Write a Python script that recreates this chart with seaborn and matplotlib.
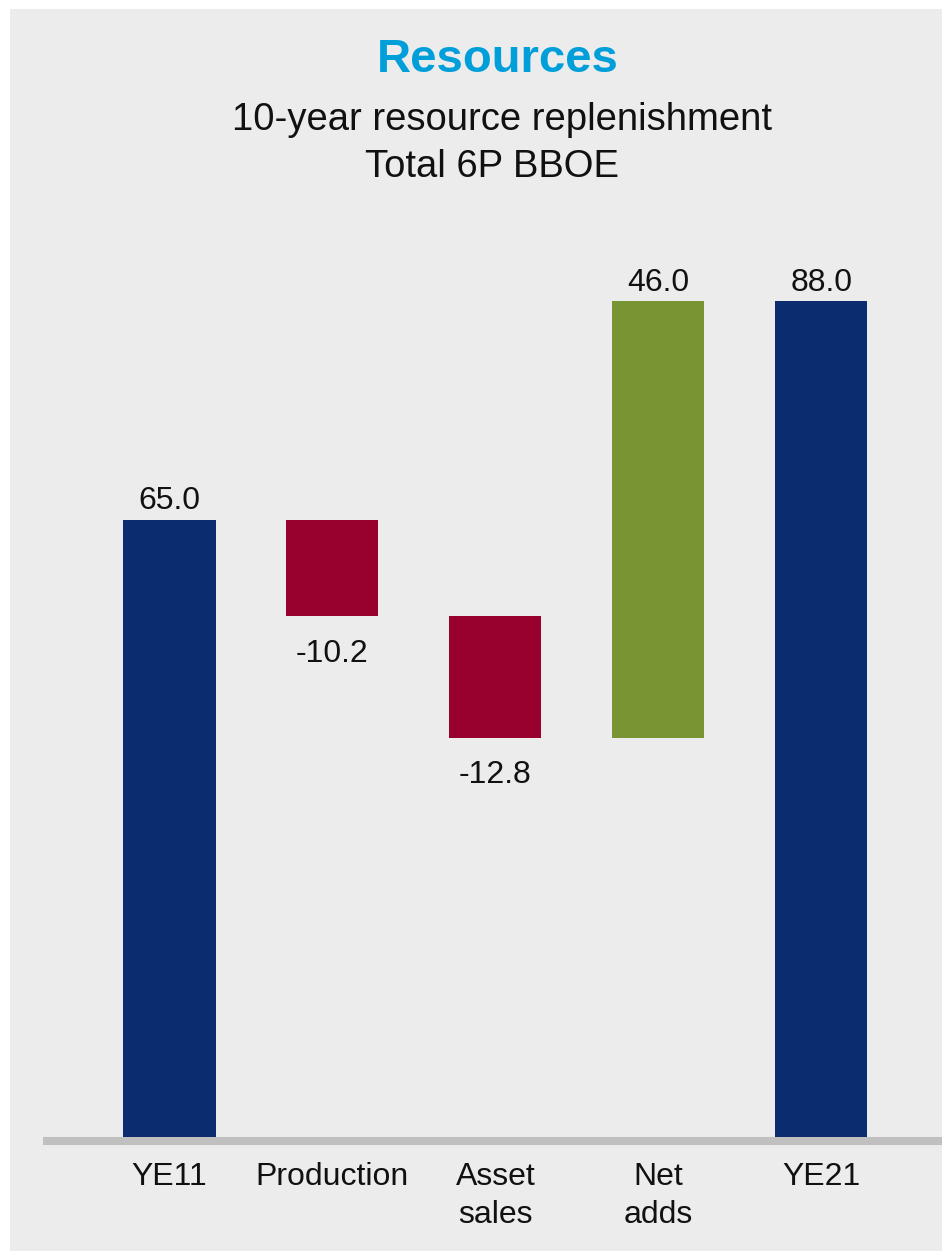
import numpy as np
import pandas as pd
import matplotlib
matplotlib.use("Agg")
import matplotlib.pyplot as plt
import seaborn as sns
from matplotlib.patches import Rectangle

# ---- data ----
categories = ["YE11", "Production", "Asset sales", "Net adds", "YE21"]
tick_labels = ["YE11", "Production", "Asset\nsales", "Net\nadds", "YE21"]
values = [65.0, -10.2, -12.8, 46.0, 88.0]
kinds = ["total", "decrease", "decrease", "increase", "total"]

title = "Resources"
subtitle1 = "10-year resource replenishment"
subtitle2 = "Total 6P BBOE"

# ---- style ----
kind_colors = {"total": "#0B2C6E", "decrease": "#98002E", "increase": "#789433"}
bg = "#ECECEC"

sns.set_style("white")
plt.rcParams["font.family"] = ["Liberation Sans", "DejaVu Sans"]

# waterfall geometry derived from values
bottoms, heights, level = [], [], 0.0
for v, k in zip(values, kinds):
    if k == "total":
        bottoms.append(0.0)
        heights.append(v)
        level = v
    else:
        new = level + v
        bottoms.append(min(level, new))
        heights.append(abs(v))
        level = new
bottoms = np.array(bottoms)
heights = np.array(heights)

df = pd.DataFrame({"category": categories, "height": heights})

W, H = 942, 1251
fig = plt.figure(figsize=(W / 100, H / 100), dpi=100, facecolor="white")
fig.patches.append(Rectangle((10 / W, 0), 1 - 10 / W, 1 - 9 / H,
                             transform=fig.transFigure, facecolor=bg,
                             edgecolor="none", zorder=-10))

ax = fig.add_axes([43 / W, (H - 1150) / H, (W - 43) / W, 900 / H])
ax.set_facecolor("none")

sns.barplot(data=df, x="category", y="height", bottom=bottoms,
            order=categories, width=0.565, errorbar=None,
            color=kind_colors["total"], ax=ax, zorder=3,
            linewidth=0)
for patch, k in zip(ax.containers[0], kinds):
    patch.set_facecolor(kind_colors[k])

px_per_unit = 9.5
ax.set_ylim(-(1150 - 1137) / px_per_unit, (1137 - 250) / px_per_unit)
ax.set_xlim(-0.776, 4.74)

# baseline
ax.axhline(-4 / px_per_unit, color="#C0C0C0", lw=5.8, zorder=1,
           solid_capstyle="butt")

# value labels
for i, (v, b, h) in enumerate(zip(values, bottoms, heights)):
    if v >= 0:
        ax.annotate(f"{v:.1f}", xy=(i, b + h), xytext=(0, 7.5),
                    textcoords="offset points", ha="center", va="baseline",
                    fontsize=23, color="#111111")
    else:
        ax.annotate(f"{v:.1f}", xy=(i, b), xytext=(0, -32.5),
                    textcoords="offset points", ha="center", va="baseline",
                    fontsize=23, color="#111111")

ax.set_xticks(range(len(categories)))
ax.set_xticklabels(tick_labels, fontsize=23, color="#111111", linespacing=1.35)
ax.tick_params(axis="x", length=0, pad=8.5)
ax.set_yticks([])
ax.set_xlabel("")
ax.set_ylabel("")
for s in ax.spines.values():
    s.set_visible(False)

fig.text(498 / W, 1 - 72 / H, title, ha="center", va="baseline",
         fontsize=34, fontweight="bold", color="#009FDA")
fig.text(502 / W, 1 - 130 / H, subtitle1, ha="center", va="baseline",
         fontsize=27.5, color="#111111")
fig.text(492 / W, 1 - 177 / H, subtitle2, ha="center", va="baseline",
         fontsize=27.5, color="#111111")

fig.savefig("out.png", dpi=100, facecolor="white")
